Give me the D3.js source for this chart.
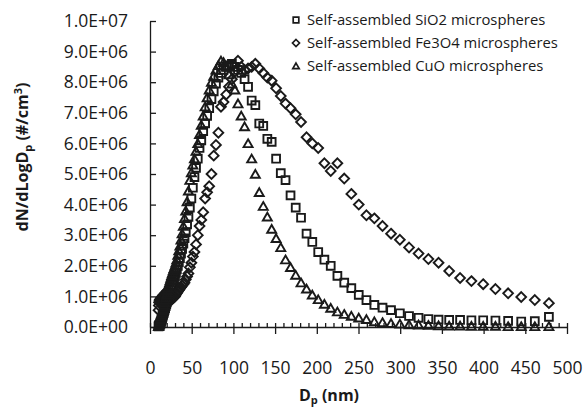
<!DOCTYPE html>
<html>
<head>
<meta charset="utf-8">
<script src="https://cdn.jsdelivr.net/npm/d3@7"></script>
<style>
  body { margin: 0; background: #fff; }
  text { font-family: "Open Sans", sans-serif; fill: #1a1a1a; }
</style>
</head>
<body>
<div id="chart"></div>
<script>
// particle diameter channels (nm)
const diam = [
  10.2, 10.6, 10.9, 11.3, 11.8, 12.2, 12.6, 13.1, 13.6, 14.1,
  14.6, 15.1, 15.7, 16.3, 16.8, 17.5, 18.1, 18.8, 19.5, 20.2,
  20.9, 21.7, 22.5, 23.3, 24.1, 25.0, 25.9, 26.9, 27.9, 28.9,
  30.0, 31.1, 32.2, 33.4, 34.6, 35.9, 37.2, 38.5, 40.0, 41.4,
  42.9, 44.5, 46.1, 47.8, 49.6, 51.4, 53.3, 55.2, 57.3, 59.4,
  61.5, 63.8, 66.1, 68.5, 71.0, 73.7, 76.4, 79.1, 82.0, 85.1,
  88.2, 91.4, 94.7, 98.2, 101.8, 105.5, 109.4, 113.4, 117.6, 121.9,
  126.3, 131.0, 135.8, 140.7, 145.9, 151.2, 156.8, 162.5, 168.5, 174.7,
  181.1, 187.7, 194.6, 201.7, 209.1, 216.7, 224.7, 232.9, 241.4, 250.3,
  259.5, 269.0, 278.8, 289.0, 299.6, 310.6, 322.0, 333.8, 346.0, 358.7,
  371.8, 385.4, 399.5, 414.2, 429.4, 445.1, 461.4, 478.3
];

// dN/dLogDp, in millions #/cm3
const sio2 = [
  0.02, 0.03, 0.05, 0.07, 0.09, 0.12, 0.15, 0.18, 0.22, 0.26,
  0.3, 0.35, 0.4, 0.45, 0.5, 0.56, 0.62, 0.68, 0.74, 0.8,
  0.86, 0.92, 0.98, 1.05, 1.12, 1.2, 1.28, 1.37, 1.46, 1.56,
  1.66, 1.77, 1.88, 2.0, 2.12, 2.25, 2.4, 2.55, 2.72, 2.9,
  3.1, 3.35, 3.6, 3.9, 4.2, 4.55, 4.9, 5.2, 5.5, 5.85,
  6.1, 6.4, 6.65, 6.9, 7.15, 7.45, 7.7, 7.95, 8.15, 8.3,
  8.4, 8.5, 8.55, 8.6, 8.5, 8.4, 8.3, 8.1, 7.85, 7.4,
  7.25, 6.65, 6.57, 6.15, 6.05, 5.5, 5.03, 4.8, 4.3, 3.9,
  3.57, 3.05, 2.78, 2.45, 2.2, 2.0, 1.67, 1.45, 1.27, 1.05,
  0.88, 0.72, 0.63, 0.55, 0.45, 0.36, 0.3, 0.26, 0.24, 0.23,
  0.23, 0.22, 0.22, 0.21, 0.2, 0.18, 0.19, 0.33
];

const fe3o4 = [
  0.55, 0.7, 0.8, 0.85, 0.9, 0.85, 0.9, 0.95, 0.9, 0.95,
  1.0, 0.95, 1.0, 1.05, 1.0, 1.05, 1.1, 1.05, 1.1, 1.17,
  1.05, 1.0, 0.95, 0.95, 0.9, 0.9, 0.9, 0.92, 0.95, 0.98,
  1.0, 1.05, 1.1, 1.15, 1.2, 1.25, 1.3, 1.35, 1.4, 1.45,
  1.55, 1.65, 1.75, 1.95, 2.1, 2.3, 2.45, 2.7, 3.0, 3.3,
  3.5, 3.75, 4.2, 4.4, 4.6, 5.0, 5.6, 5.95, 6.35, 7.2,
  7.35, 7.6, 7.85, 8.1, 8.35, 8.7, 8.5, 8.4, 8.45, 8.5,
  8.6, 8.45, 8.3, 8.15, 8.05, 7.8, 7.55, 7.3, 7.15, 6.95,
  6.7, 6.2, 6.0, 5.85, 5.35, 5.1, 5.35, 4.85, 4.35, 4.0,
  3.65, 3.55, 3.3, 3.05, 2.85, 2.6, 2.4, 2.22, 2.1, 1.83,
  1.6, 1.5, 1.4, 1.24, 1.1, 0.98, 0.88, 0.78
];

const cuo = [
  0.02, 0.04, 0.07, 0.1, 0.14, 0.18, 0.23, 0.28, 0.34, 0.4,
  0.46, 0.52, 0.58, 0.65, 0.72, 0.8, 0.88, 0.96, 1.04, 1.12,
  1.2, 1.28, 1.36, 1.44, 1.52, 1.6, 1.68, 1.76, 1.84, 1.92,
  2.0, 2.1, 2.2, 2.35, 2.5, 2.65, 2.85, 3.05, 3.3, 3.55,
  3.8, 4.1, 4.45, 4.8, 5.05, 5.3, 5.5, 5.75, 6.0, 6.3,
  6.6, 6.9, 7.2, 7.5, 7.75, 8.0, 8.2, 8.4, 8.55, 8.7,
  8.65, 8.5, 8.25, 7.95, 7.75, 7.3, 6.9, 6.55, 6.0, 5.5,
  5.0, 4.4, 3.95, 3.6, 3.2, 2.9, 2.6, 2.2, 1.95, 1.7,
  1.45, 1.25, 1.05, 0.9, 0.75, 0.62, 0.5, 0.42, 0.36, 0.3,
  0.25, 0.18, 0.15, 0.12, 0.1, 0.08, 0.07, 0.06, 0.05, 0.04,
  0.04, 0.03, 0.03, 0.03, 0.02, 0.02, 0.02, 0.02
];

const seriesNames = [
  "Self-assembled SiO2 microspheres",
  "Self-assembled Fe3O4 microspheres",
  "Self-assembled CuO microspheres"
];

const xTicks = [0, 50, 100, 150, 200, 250, 300, 350, 400, 450, 500];
const yTicks = [0, 1e6, 2e6, 3e6, 4e6, 5e6, 6e6, 7e6, 8e6, 9e6, 1e7];

const width = 586,
      height = 408,
      ink = "#1a1a1a";

// marker shapes, centred on 0,0
const shapes = {
  square: s => `M${-s},${-s}H${s}V${s}H${-s}Z`,
  diamond: s => `M0,${-s * 1.25}L${s * 1.25},0L0,${s * 1.25}L${-s * 1.25},0Z`,
  triangle: s => `M0,${-s * 1.05}L${s * 1.15},${s * 0.95}L${-s * 1.15},${s * 0.95}Z`
};

const series = [
  { name: seriesNames[0], values: sio2, shape: "square" },
  { name: seriesNames[1], values: fe3o4, shape: "diamond" },
  { name: seriesNames[2], values: cuo, shape: "triangle" }
];

const svg = d3.select("#chart")
  .append("svg")
  .attr("width", width)
  .attr("height", height);

let x = d3.scaleLinear()
  .domain([0, 500])
  .range([150, 567]);

let y = d3.scaleLinear()
  .domain([0, 1e7])
  .range([327, 21]);

// Excel style scientific labels, e.g. 1.0E+07
const sci = v => {
  if (v === 0) return "0.0E+00";
  const e = Math.floor(Math.log10(v));
  return (v / Math.pow(10, e)).toFixed(1) + "E+" + String(e).padStart(2, "0");
};

// y axis, ticks point into the plot
svg.append("g")
  .attr("transform", `translate(${x(0)},0)`)
  .call(d3.axisLeft(y)
    .tickValues(yTicks)
    .tickFormat(sci)
    .tickSize(-6)
    .tickSizeOuter(0)
    .tickPadding(22));

// minor x ticks every 10 nm, pointing up
svg.append("g")
  .attr("transform", `translate(0,${y(0)})`)
  .call(d3.axisBottom(x)
    .tickValues(d3.range(0, 501, 10))
    .tickSize(-4)
    .tickSizeOuter(0)
    .tickFormat(""))
  .call(g => g.select(".domain").remove());

svg.append("g")
  .attr("transform", `translate(0,${y(0)})`)
  .call(d3.axisBottom(x)
    .tickValues(xTicks)
    .tickSize(7)
    .tickSizeOuter(0)
    .tickPadding(28));

svg.selectAll(".tick text")
  .attr("font-size", 17.5)
  .attr("font-family", "Open Sans, sans-serif")
  .attr("fill", "#222");

svg.selectAll(".domain, .tick line")
  .attr("stroke", ink)
  .attr("stroke-width", 1.3);

// data markers
series.forEach(s => {
  svg.append("g")
    .selectAll("path")
    .data(s.values.map((v, i) => ({ d: diam[i], v: v * 1e6 })))
    .join("path")
    .attr("transform", d => `translate(${x(d.d)},${y(d.v)})`)
    .attr("d", shapes[s.shape](3.9))
    .attr("fill", "none")
    .attr("stroke", ink)
    .attr("stroke-width", 1.9);
});

// legend
const legend = svg.append("g")
  .attr("transform", "translate(296,20)");

series.forEach((s, i) => {
  const row = legend.append("g")
    .attr("transform", `translate(0,${i * 23})`);
  row.append("path")
    .attr("d", shapes[s.shape](2.8))
    .attr("fill", "none")
    .attr("stroke", ink)
    .attr("stroke-width", 1.7);
  row.append("text")
    .attr("x", 11)
    .attr("dy", "0.36em")
    .attr("font-size", 14.8)
    .text(s.name);
});

// axis titles
const xLabel = svg.append("text")
  .attr("x", 329)
  .attr("y", 401)
  .attr("text-anchor", "middle")
  .attr("font-size", 16)
  .attr("font-weight", "bold");
xLabel.append("tspan").text("D");
xLabel.append("tspan").attr("font-size", 11).attr("dy", 2.5).text("p");
xLabel.append("tspan").attr("dy", -2.5).text(" (nm)");

const yLabel = svg.append("text")
  .attr("transform", "translate(28,157) rotate(-90)")
  .attr("text-anchor", "middle")
  .attr("font-size", 16)
  .attr("font-weight", "bold");
yLabel.append("tspan").text("dN/dLogD");
yLabel.append("tspan").attr("font-size", 11).attr("dy", 4).text("p");
yLabel.append("tspan").attr("dy", -4).text(" (#/cm");
yLabel.append("tspan").attr("font-size", 11).attr("dy", -6).text("3");
yLabel.append("tspan").attr("dy", 6).text(")");
</script>
</body>
</html>
